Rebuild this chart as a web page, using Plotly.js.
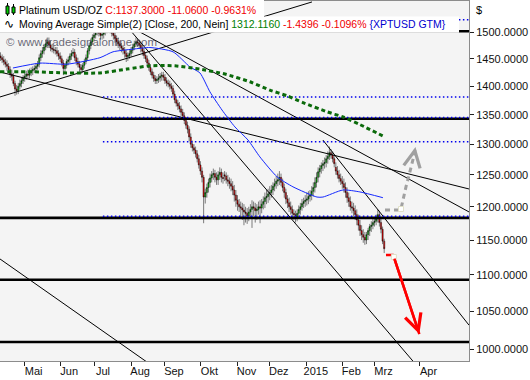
<!DOCTYPE html>
<html><head><meta charset="utf-8">
<script src="https://cdn.plot.ly/plotly-3.0.1.min.js"></script>
<style>html,body{margin:0;padding:0;background:#fff}#chart{width:530px;height:380px}</style>
</head><body><div id="chart"></div>
<script>
// x = trading-day index (weekdays), 0 = 1 May 2014
const firstDay = -15;
const openP = [
1455,1452,1448,1444,1440,1436,1430,1422,1418,1405,
1395,1392,1400,1405,1410,1415,1418,1422,1420,1425,
1428,1430,1432,1436,1440,1452,1460,1465,1472,1478,
1482,1476,1470,1468,1466,1465,1460,1455,1450,1442,
1432,1438,1445,1448,1455,1460,1462,1452,1445,1440,
1434,1430,1438,1445,1452,1465,1475,1482,1490,1495,
1502,1506,1498,1494,1496,1500,1504,1508,1512,
1505,1498,1494,1488,1482,1478,1474,1470,1466,1460,
1454,1456,1460,1466,1472,1478,1482,1480,1476,1470,
1464,1456,1450,1442,1434,1426,1420,1414,1410,1412,
1415,1418,1420,1416,1410,1406,1404,1400,1396,1386,
1376,1370,1365,1360,1354,1348,1340,1332,1325,1312,
1300,1294,1290,1284,1276,1266,1256,1246,1215,1222,
1230,1238,1245,1250,1252,1246,1242,1250,1254,1246,
1250,1248,1242,1240,1236,1232,1226,1218,1210,
1204,1200,1198,1195,1192,1190,1186,1192,1196,1200,
1198,1194,1196,1200,1198,1204,1208,1214,1216,1220,
1222,1226,1232,1236,1240,1242,1246,1238,1230,1222,
1212,1206,1200,1196,1190,1188,1184,1190,1196,1200,
1205,1208,1210,1212,1216,1218,1224,1230,1238,1246,
1255,1260,1265,1268,1270,1276,1280,1286,1282,1276,
1262,1256,1250,1244,1240,1236,1230,1222,1214,
1208,1200,1198,1194,1188,1180,1172,1164,1158,1154,
1150,1158,1164,1170,1172,1176,1178,1182,1188,1176,
1166,1148.36];
const highP = [
1462,1458,1455,1450,1447,1442,1436,1430,1424,1410,
1402,1406,1412,1416,1420,1425,1428,1430,1432,1434,
1436,1438,1442,1446,1458,1466,1472,1478,1486,1490,
1490,1484,1478,1475,1472,1472,1466,1462,1456,1448,
1442,1450,1454,1460,1466,1470,1468,1458,1452,1446,
1440,1442,1450,1458,1470,1480,1488,1496,1502,1506,
1514,1512,1504,1502,1506,1512,1516,1525,1518,
1510,1504,1500,1494,1490,1484,1480,1476,1472,1466,
1462,1466,1472,1478,1484,1490,1488,1486,1482,1476,
1470,1462,1456,1448,1440,1432,1426,1420,1418,1422,
1424,1426,1426,1422,1416,1412,1410,1406,1402,1392,
1382,1376,1372,1366,1360,1354,1346,1338,1330,1318,
1306,1300,1296,1290,1282,1272,1262,1250,1228,1236,
1244,1252,1256,1260,1258,1254,1256,1262,1260,1254,
1256,1254,1250,1246,1244,1240,1234,1226,1218,
1212,1208,1206,1204,1200,1198,1200,1204,1210,1208,
1206,1204,1208,1210,1212,1216,1222,1226,1228,1232,
1234,1238,1244,1248,1252,1256,1252,1244,1236,1228,
1218,1214,1208,1202,1196,1194,1196,1202,1206,1212,
1214,1218,1222,1224,1226,1232,1238,1246,1254,1262,
1266,1270,1274,1278,1282,1288,1296,1292,1288,1282,
1270,1264,1258,1252,1248,1244,1238,1230,1222,
1216,1208,1206,1202,1196,1188,1180,1172,1166,1162,
1162,1168,1174,1178,1182,1184,1188,1196,1194,1182,
1170,1152];
const lowP = [
1446,1442,1438,1434,1428,1424,1415,1410,1400,1383,
1385,1386,1394,1398,1404,1408,1412,1414,1414,1418,
1420,1424,1426,1430,1434,1446,1452,1458,1466,1470,
1470,1464,1462,1460,1458,1454,1448,1444,1436,1420,
1424,1432,1438,1442,1448,1454,1446,1438,1434,1426,
1422,1424,1432,1440,1446,1458,1468,1476,1484,1488,
1494,1492,1486,1486,1488,1494,1498,1500,1498,
1492,1486,1480,1474,1470,1466,1462,1458,1452,1444,
1446,1450,1454,1460,1466,1472,1472,1468,1462,1456,
1450,1444,1436,1428,1420,1414,1408,1404,1404,1406,
1408,1410,1410,1404,1400,1398,1394,1390,1380,1370,
1364,1358,1354,1348,1342,1334,1326,1318,1305,1294,
1288,1284,1278,1270,1260,1250,1238,1175,1205,1214,
1222,1230,1238,1242,1238,1234,1234,1242,1238,1236,
1240,1236,1232,1228,1224,1218,1208,1200,1194,
1192,1184,1180,1172,1176,1174,1178,1184,1168,1186,
1176,1180,1188,1175,1190,1196,1198,1204,1206,1210,
1214,1218,1224,1228,1232,1234,1232,1224,1214,1204,
1198,1192,1188,1182,1180,1176,1178,1184,1188,1194,
1198,1200,1202,1204,1208,1210,1216,1222,1230,1238,
1246,1252,1256,1260,1262,1268,1274,1276,1270,1262,
1250,1244,1238,1234,1228,1222,1214,1206,1200,
1194,1190,1186,1180,1172,1164,1156,1150,1146,1143,
1144,1150,1156,1162,1166,1170,1172,1176,1170,1160,
1144,1131];
const closeP = [
1452,1448,1444,1440,1436,1430,1422,1418,1405,1395,
1392,1400,1405,1410,1415,1418,1422,1420,1425,1428,
1430,1432,1436,1440,1452,1460,1465,1472,1478,1482,
1476,1470,1468,1466,1465,1460,1455,1450,1442,1432,
1438,1445,1448,1455,1460,1462,1452,1445,1440,1434,
1430,1438,1445,1452,1465,1475,1482,1490,1495,1498,
1506,1498,1494,1496,1500,1504,1508,1512,1505,
1498,1494,1488,1482,1478,1474,1470,1466,1460,1454,
1456,1460,1466,1472,1478,1482,1480,1476,1470,1464,
1456,1450,1442,1434,1426,1420,1414,1410,1412,1415,
1418,1420,1416,1410,1406,1404,1400,1396,1386,1376,
1370,1365,1360,1354,1348,1340,1332,1325,1312,1300,
1294,1290,1284,1276,1266,1256,1246,1215,1222,1230,
1238,1245,1250,1252,1246,1242,1250,1254,1246,1244,
1248,1242,1240,1236,1232,1226,1218,1210,1204,
1200,1198,1195,1192,1190,1186,1192,1196,1200,1198,
1194,1196,1200,1198,1204,1208,1214,1216,1220,1222,
1226,1232,1236,1240,1242,1246,1238,1230,1222,1212,
1206,1200,1196,1190,1188,1184,1190,1196,1200,1205,
1208,1210,1212,1216,1218,1224,1230,1238,1246,1255,
1260,1265,1268,1270,1276,1280,1286,1282,1276,1268,
1256,1250,1244,1240,1236,1230,1222,1214,1208,
1200,1198,1194,1188,1180,1172,1164,1158,1154,1150,
1158,1164,1170,1172,1176,1178,1182,1188,1176,1166,
1148.36,1137.3];

const monthTickDays = [0,22,43,66,87,109,132,152,175,197,217,244.9];
const monthTickLabels = ['Mai','Jun','Jul','Aug','Sep','Okt','Nov','Dez','2015','Feb','Mrz','Apr'];
const priceTicks = [1000,1050,1100,1150,1200,1250,1300,1350,1400,1450,1500];

// blue moving average
const maBlueDays = [-7.3,9.5,26.2,46.7,54.8,67.2,77.7,92.0,102.5,108.7,114.9,122.4,130.4,138.5,145.9,156.5,166.4,181.3,185.0,197.4,207.9,222.2];
const maBlueVals = [1433,1442,1440,1452,1463,1468,1471,1463,1435,1424,1390,1358,1329,1307,1279,1247,1231,1215,1215,1226,1223,1214];
// green 200-day simple moving average
const ma200Days = [-15.3,5.1,26.2,46.7,63.4,77.7,93.2,108.7,124.2,139.7,152.1,162.7,172.6,187.5,197.4,207.9,223.5];
const ma200Vals = [1426,1426,1424,1424,1431,1437,1437,1431,1422,1408,1393,1383,1371,1355,1346,1333,1312];

// horizontal levels
const solidLevels = [1502,1343,1183,1093,1009.5];
const dottedLevels = [1524,1381,1345,1304,1185.5];
const dottedFromDay = 48.5;

// trend lines: [day0, price0, day1, price1]
const trendLines = [
  [-15.32,1380.9,178.2,1559.3],
  [-15.32,1425.7,275.6,1227.6],
  [54.2,1545.3,244.5,976.4],
  [63.5,1514.1,275.6,1192.1],
  [185.0,1306.8,275.6,1031.4],
  [-15.32,1122.5,75.9,983.8]
];

// projection paths
const bullPathDays = [223.5,232.8,233.4,234.6,236.5,238.3,240.2,241.4,242.4];
const bullPathVals = [1195.1,1195.1,1196.6,1210.5,1230.9,1248.3,1265.9,1280.5,1295.3];
const bearPathDays = [224.1,228.4,229.0,244.8];
const bearPathVals = [1128.2,1128.2,1125.3,1019.7];

const days = closeP.map((_, k) => firstDay + k);
const X0 = -15.32, X1 = 275.6;
const FONT = 'Liberation Sans, Arial, sans-serif';

const traces = [];
solidLevels.forEach(v => traces.push({type:'scatter', mode:'lines', x:[X0-2, X1+2], y:[v, v],
  line:{color:'#000', width:2.6}, hoverinfo:'skip'}));
trendLines.forEach(t => traces.push({type:'scatter', mode:'lines', x:[t[0], t[2]], y:[t[1], t[3]],
  line:{color:'#000', width:1}, hoverinfo:'skip'}));
dottedLevels.forEach(v => traces.push({type:'scatter', mode:'lines', x:[dottedFromDay, X1+2], y:[v, v],
  line:{color:'#0000ee', width:1.5, dash:'1.5px,2.5px'}, hoverinfo:'skip'}));
traces.push({type:'candlestick', x:days, open:openP, high:highP, low:lowP, close:closeP,
  increasing:{line:{color:'#000', width:0.5}, fillcolor:'#00d000'},
  decreasing:{line:{color:'#000', width:0.5}, fillcolor:'#ff0000'},
  whiskerwidth:0, hoverinfo:'none'});
traces.push({type:'scatter', mode:'lines', x:maBlueDays, y:maBlueVals,
  line:{color:'#1428ff', width:1, shape:'spline', smoothing:0.6}, hoverinfo:'skip'});
traces.push({type:'scatter', mode:'lines', x:ma200Days, y:ma200Vals,
  line:{color:'#0b6a0b', width:3, dash:'4px,3px', shape:'spline', smoothing:0.6}, hoverinfo:'skip'});
traces.push({type:'scatter', mode:'lines', x:bullPathDays, y:bullPathVals,
  line:{color:'#a0a0a0', width:3, dash:'5px,4px'}, hoverinfo:'skip'});
traces.push({type:'scatter', mode:'lines', x:bearPathDays, y:bearPathVals,
  line:{color:'#ff0000', width:2.5}, hoverinfo:'skip'});
traces.push({type:'scatter', mode:'markers', x:[bullPathDays[2], bearPathDays[2]], y:[bullPathVals[2], bearPathVals[2]],
  marker:{symbol:'square', size:5, color:'#ffffff', line:{color:'#e0e0c8', width:1}}, hoverinfo:'skip'});

// pixel helpers for decorations (plot area: x 0..469, y 1..361)
const PX = p => p / 469;
const PY = p => (361 - p) / 360;

const nb = bullPathDays.length, nr = bearPathDays.length;
const annotations = [
  {xref:'paper', yref:'paper', x:PX(17), y:PY(9.5), xanchor:'left', yanchor:'middle', showarrow:false,
   font:{family:FONT, size:10.5, color:'#000'},
   text:'Platinum USD/OZ <span style="color:#f00000">C:1137.3000 -11.0600 -0.9631%</span>'},
  {xref:'paper', yref:'paper', x:PX(17), y:PY(23.5), xanchor:'left', yanchor:'middle', showarrow:false,
   font:{family:FONT, size:10.5, color:'#000'},
   text:'Moving Average Simple(2) [Close, 200, Nein] <span style="color:#008000">1312.1160</span> <span style="color:#f00000">-1.4396 -0.1096%</span> <span style="color:#0000d0">{XPTUSD GTM}</span>'},
  {xref:'paper', yref:'paper', x:PX(2), y:PY(23.5), xanchor:'left', yanchor:'middle', showarrow:false,
   font:{family:'DejaVu Sans', size:12, color:'#000'}, text:'∿'},
  {xref:'paper', yref:'paper', x:PX(4), y:PY(41.5), xanchor:'left', yanchor:'middle', showarrow:false,
   font:{family:FONT, size:11.5, color:'rgba(40,40,60,0.7)'}, text:'© www.tradesignalonline.com'},
  {xref:'paper', yref:'paper', x:PX(474), y:PY(10), xanchor:'left', yanchor:'middle', showarrow:false,
   font:{family:FONT, size:11, color:'#000'}, text:'$'},
  {x:bearPathDays[nr-1], y:Math.log10(bearPathVals[nr-1]), axref:'x', ayref:'y',
   ax:bearPathDays[nr-2], ay:Math.log10(bearPathVals[nr-2]), showarrow:true, arrowhead:5, arrowsize:1.3,
   arrowwidth:2.5, arrowcolor:'#ff0000', text:''},
  {x:bullPathDays[nb-1], y:Math.log10(bullPathVals[nb-1]), axref:'x', ayref:'y',
   ax:bullPathDays[nb-2], ay:Math.log10(bullPathVals[nb-2]), showarrow:true, arrowhead:5, arrowsize:1.3,
   arrowwidth:2.5, arrowcolor:'#a0a0a0', text:''}
];

const shapes = [
  {type:'rect', xref:'paper', yref:'paper', x0:PX(0), x1:PX(264), y0:PY(17), y1:PY(0), fillcolor:'#fff', line:{width:0}, layer:'above'},
  {type:'rect', xref:'paper', yref:'paper', x0:PX(0), x1:PX(459), y0:PY(32.8), y1:PY(16.5), fillcolor:'#fff', line:{width:0}, layer:'above'},
  {type:'line', xref:'paper', yref:'paper', x0:PX(7.5), x1:PX(7.5), y0:PY(16), y1:PY(3), line:{color:'#000', width:1}, layer:'above'},
  {type:'rect', xref:'paper', yref:'paper', x0:PX(6), x1:PX(9), y0:PY(14), y1:PY(6), fillcolor:'#00d000', line:{color:'#000', width:1}, layer:'above'},
  {type:'line', xref:'paper', yref:'paper', x0:PX(13.5), x1:PX(13.5), y0:PY(15), y1:PY(4), line:{color:'#000', width:1}, layer:'above'},
  {type:'rect', xref:'paper', yref:'paper', x0:PX(12), x1:PX(15), y0:PY(13), y1:PY(7), fillcolor:'#00d000', line:{color:'#000', width:1}, layer:'above'}
];

const layout = {
  width:530, height:380, autosize:false,
  margin:{l:0, r:61, t:1, b:19, pad:0},
  paper_bgcolor:'#ffffff', plot_bgcolor:'#f4f4f4',
  showlegend:false, boxgap:0, dragmode:false,
  font:{family:FONT, size:11, color:'#111'},
  xaxis:{range:[X0, X1], tickmode:'array', tickvals:monthTickDays, ticktext:monthTickLabels,
    ticks:'outside', ticklen:4, tickwidth:1, tickcolor:'#222', ticklabelshift:9, ticklabelstandoff:-4,
    tickfont:{family:FONT, size:11, color:'#111'}, showgrid:false, zeroline:false,
    showline:true, mirror:true, linecolor:'#8c8c8c', linewidth:1, rangeslider:{visible:false}, fixedrange:true},
  yaxis:{type:'log', side:'right', range:[Math.log10(985.2), Math.log10(1561.2)],
    tickmode:'array', tickvals:priceTicks, ticktext:priceTicks.map(v => v.toFixed(4)),
    ticks:'outside', ticklen:4, tickwidth:1, tickcolor:'#222',
    tickfont:{family:FONT, size:11, color:'#111'}, showgrid:false, zeroline:false,
    showline:true, mirror:true, linecolor:'#8c8c8c', linewidth:1, fixedrange:true},
  annotations: annotations,
  shapes: shapes
};

Plotly.newPlot('chart', traces, layout, {staticPlot:true, displayModeBar:false});
</script>
</body></html>
